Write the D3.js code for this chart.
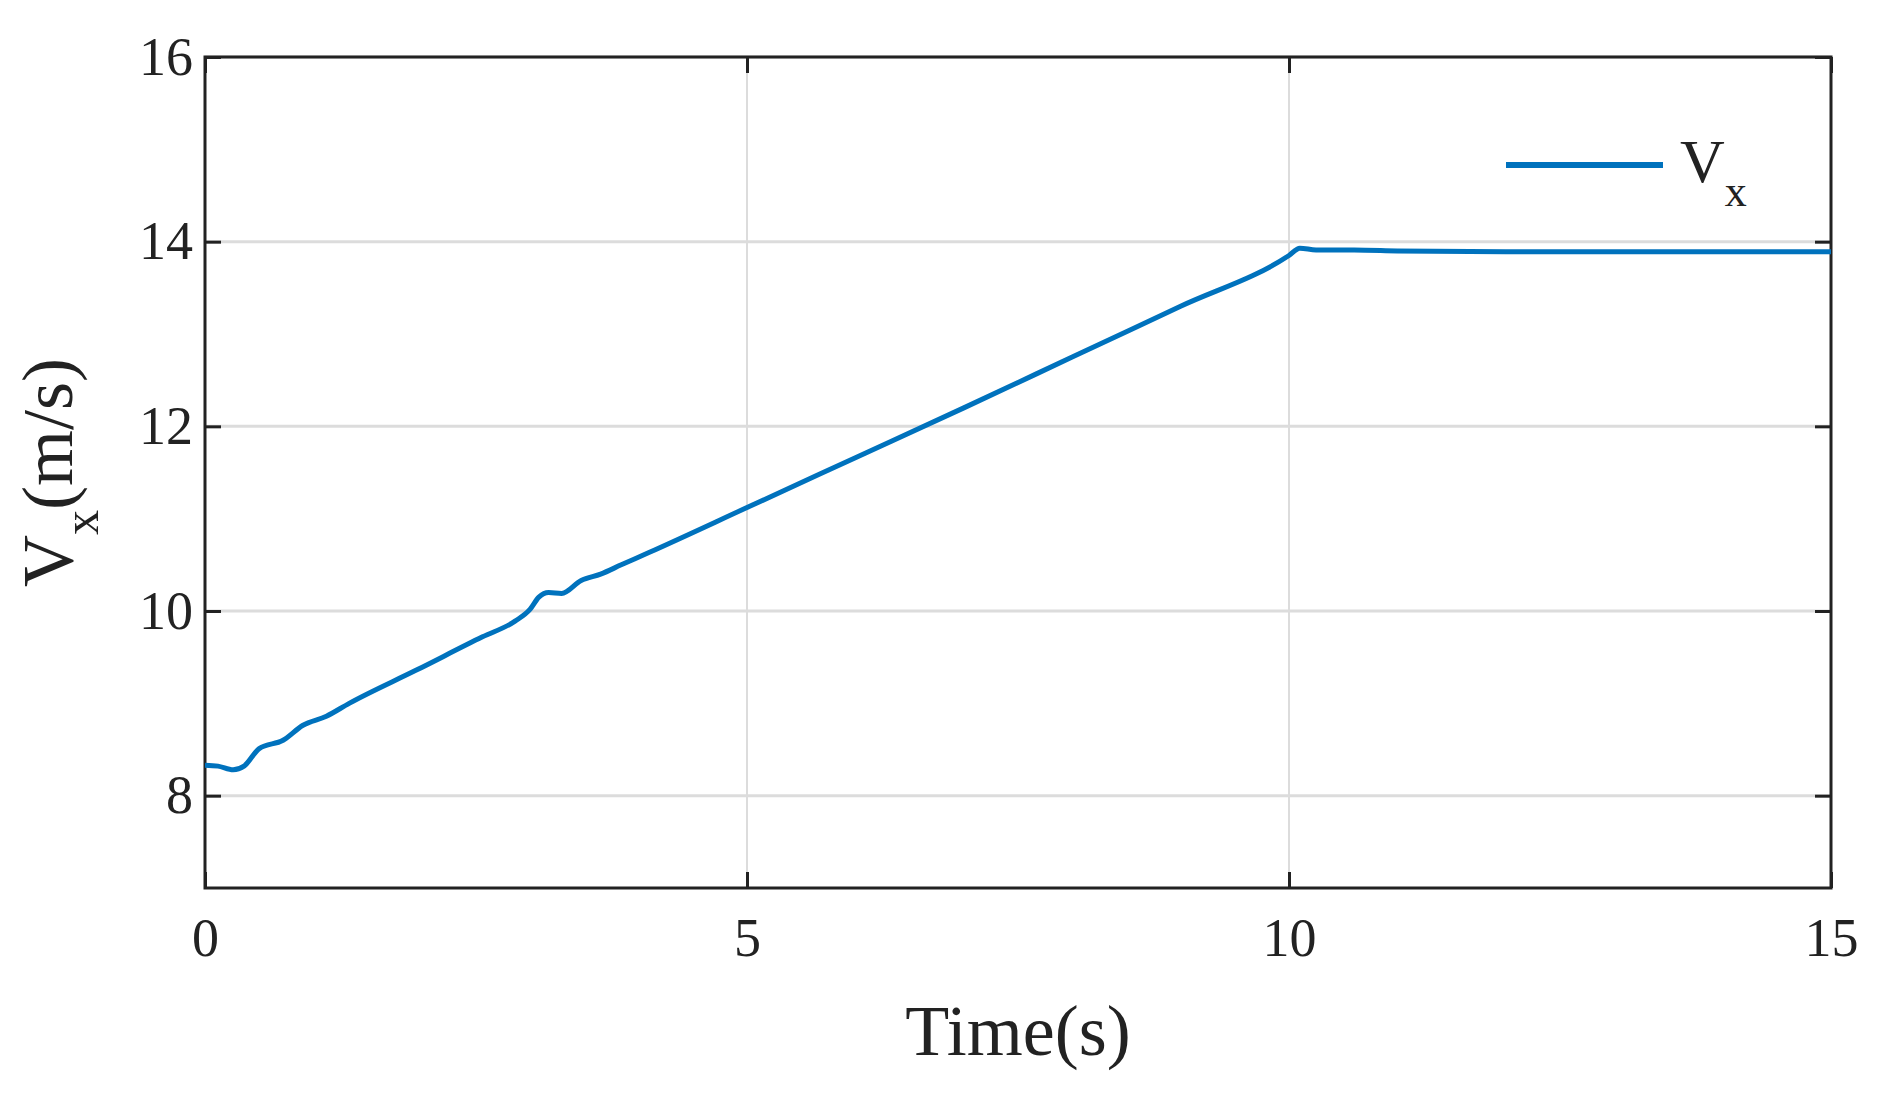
<!DOCTYPE html>
<html><head><meta charset="utf-8">
<script src="https://cdn.jsdelivr.net/npm/d3@7"></script>
<style>body{margin:0;background:#fff}text{font-family:"Liberation Serif","DejaVu Serif",serif;fill:#222}</style>
</head><body><svg id="chart" width="1883" height="1099"></svg>
<script>
const times = [0,0.12,0.26,0.36,0.5,0.72,0.9,1.12,1.33,1.95,2.56,2.86,3.0,3.08,3.17,3.29,3.47,3.65,3.84,4.09,5,6,7,8,9,10,10.1,10.25,10.6,11,12,13,14,15];
const speeds = [8.33,8.32,8.28,8.32,8.51,8.60,8.76,8.86,9.0,9.36,9.72,9.89,10.02,10.15,10.2,10.19,10.33,10.4,10.5,10.63,11.12,11.66,12.2,12.75,13.3,13.85,13.93,13.91,13.91,13.9,13.89,13.89,13.89,13.89];
const xTicks = [0,5,10,15];
const yTicks = [8,10,12,14,16];

const svg = d3.select('#chart');
const m = {l:205, r:1831, t:57, b:888};
const x = d3.scaleLinear().domain([0,15]).range([m.l,m.r]);
const y = d3.scaleLinear().domain([7,16]).range([m.b,m.t]);

// grid
svg.selectAll('.gx').data(xTicks).enter().append('line')
  .attr('x1',d=>x(d)).attr('x2',d=>x(d)).attr('y1',m.t).attr('y2',m.b)
  .attr('stroke','#dcdcdc').attr('stroke-width',2);
svg.selectAll('.gy').data(yTicks).enter().append('line')
  .attr('y1',d=>y(d)).attr('y2',d=>y(d)).attr('x1',m.l).attr('x2',m.r)
  .attr('stroke','#dcdcdc').attr('stroke-width',3);

// axes
const ax = svg.append('g').attr('transform',`translate(0,${m.b})`)
  .call(d3.axisBottom(x).tickValues(xTicks).tickSize(-16).tickPadding(30));
const ax2 = svg.append('g').attr('transform',`translate(0,${m.t})`)
  .call(d3.axisTop(x).tickValues(xTicks).tickSize(-16).tickFormat(''));
const ay = svg.append('g').attr('transform',`translate(${m.l},0)`)
  .call(d3.axisLeft(y).tickValues(yTicks).tickSize(-16).tickPadding(12));
const ay2 = svg.append('g').attr('transform',`translate(${m.r},0)`)
  .call(d3.axisRight(y).tickValues(yTicks).tickSize(-16).tickFormat(''));
[ax,ax2,ay,ay2].forEach(g=>{
  g.selectAll('path').remove();
  g.selectAll('line').attr('stroke','#222').attr('stroke-width',3);
  g.selectAll('text').attr('font-size',54).attr('fill','#222')
    .style('font-family','"Liberation Serif",serif');
});
svg.append('rect').attr('x',m.l).attr('y',m.t).attr('width',m.r-m.l).attr('height',m.b-m.t)
  .attr('fill','none').attr('stroke','#222').attr('stroke-width',3);

// data line
const line = d3.line().x((d,i)=>x(times[i])).y(d=>y(d)).curve(d3.curveMonotoneX);
svg.append('path').datum(speeds).attr('d',line)
  .attr('fill','none').attr('stroke','#0072bd').attr('stroke-width',5);

// legend
svg.append('line').attr('x1',1506).attr('x2',1663).attr('y1',165).attr('y2',165)
  .attr('stroke','#0072bd').attr('stroke-width',6);
const lt = svg.append('text').attr('x',1680).attr('y',182).attr('font-size',62);
lt.append('tspan').text('V');
lt.append('tspan').attr('font-size',44).attr('dy',24).text('x');

// labels
svg.append('text').attr('x',(m.l+m.r)/2).attr('y',1055).attr('text-anchor','middle')
  .attr('font-size',72).text('Time(s)');
const yl = svg.append('text').attr('transform',`translate(72,${(m.t+m.b)/2}) rotate(-90)`)
  .attr('text-anchor','middle').attr('font-size',72);
yl.append('tspan').text('V');
yl.append('tspan').attr('font-size',50).attr('dy',26).text('x');
yl.append('tspan').attr('dy',-26).text('(m/s)');
</script></body></html>
